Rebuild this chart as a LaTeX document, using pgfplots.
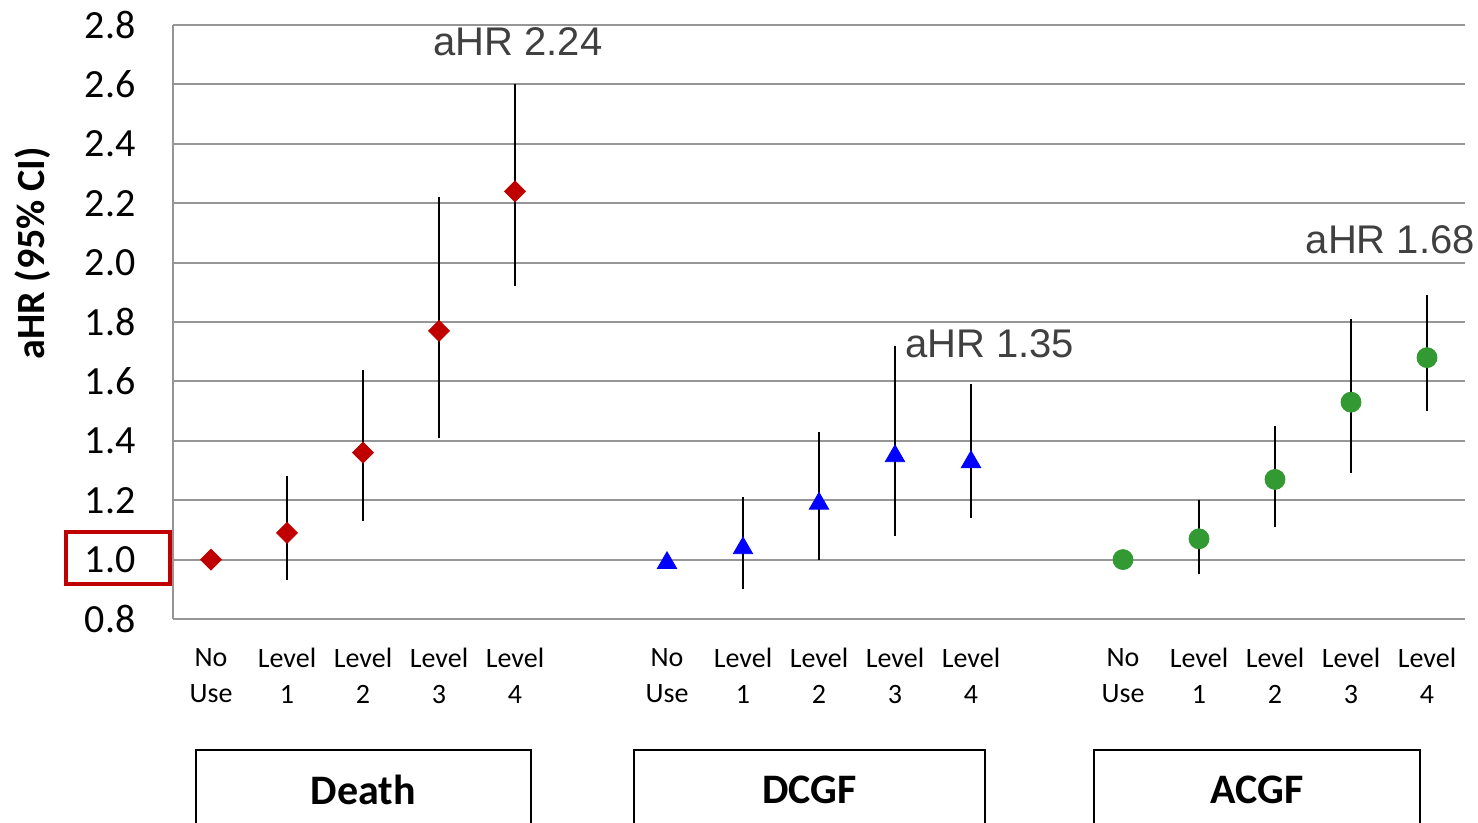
\documentclass[border=0pt]{standalone}
\usepackage{fontspec}
\setmainfont{Carlito}
\newfontfamily\arialfont{Liberation Sans}
\usepackage{pgfplots}
\pgfplotsset{compat=1.18}
\usepackage{pgfplotstable}

\definecolor{gridgrey}{RGB}{150,150,150}
\definecolor{dred}{RGB}{192,0,0}
\definecolor{dblue}{RGB}{0,0,255}
\definecolor{dgreen}{RGB}{51,153,51}
\definecolor{notegrey}{RGB}{64,64,64}

% x = category slot, y = aHR, lo/hi = 95% CI
\pgfplotstableread{
x y lo hi
0 1.00 1.00 1.00
1 1.09 0.93 1.28
2 1.36 1.13 1.64
3 1.77 1.41 2.22
4 2.24 1.92 2.60
}\death
\pgfplotstableread{
x y lo hi
6 1.00 1.00 1.00
7 1.05 0.90 1.21
8 1.20 1.00 1.43
9 1.36 1.08 1.72
10 1.34 1.14 1.59
}\dcgf
\pgfplotstableread{
x y lo hi
12 1.00 1.00 1.00
13 1.07 0.95 1.20
14 1.27 1.11 1.45
15 1.53 1.29 1.81
16 1.68 1.50 1.89
}\acgf

\begin{document}
\begin{tikzpicture}
\useasboundingbox (0,0) rectangle (739pt,411.5pt);
\begin{axis}[
  at={(86.5pt,102pt)}, anchor=south west,
  scale only axis, width=646pt, height=297pt,
  xmin=-0.5, xmax=16.5, ymin=0.8, ymax=2.8,
  clip=false,
  axis x line*=bottom, axis y line*=left,
  axis line style={draw=gridgrey, line width=1pt, -},
  major tick length=0pt,
  ymajorgrids, grid style={gridgrey, line width=1pt},
  ytick={0.8,1.0,1.2,1.4,1.6,1.8,2.0,2.2,2.4,2.6,2.8},
  yticklabel style={/pgf/number format/.cd, fixed, fixed zerofill, precision=1,
    assume math mode=true, /tikz/.cd,
    font=\fontsize{20}{24}\selectfont, anchor=east, inner sep=0pt, xshift=-18.5pt},
  xtick={0,1,2,3,4,6,7,8,9,10,12,13,14,15,16},
  xticklabels={{No\\Use},{Level\\1},{Level\\2},{Level\\3},{Level\\4},
               {No\\Use},{Level\\1},{Level\\2},{Level\\3},{Level\\4},
               {No\\Use},{Level\\1},{Level\\2},{Level\\3},{Level\\4}},
  xticklabel style={align=center, font=\fontsize{14}{18}\selectfont,
    anchor=north, inner sep=0pt, yshift=-14.5pt},
  error bars/error bar style={black, line width=1.2pt},
]
\addplot[only marks, mark=square*, mark size=3.7pt, mark options={rotate=45}, dred,
  error bars/.cd, y dir=both, y explicit, error mark=none]
  table[x=x, y=y, y error plus expr=\thisrow{hi}-\thisrow{y},
        y error minus expr=\thisrow{y}-\thisrow{lo}] {\death};
\addplot[only marks, mark=triangle*, mark size=5.6pt, mark options={yshift=-1.7pt}, dblue,
  error bars/.cd, y dir=both, y explicit, error mark=none]
  table[x=x, y=y, y error plus expr=\thisrow{hi}-\thisrow{y},
        y error minus expr=\thisrow{y}-\thisrow{lo}] {\dcgf};
\addplot[only marks, mark=*, mark size=5pt, dgreen,
  error bars/.cd, y dir=both, y explicit, error mark=none]
  table[x=x, y=y, y error plus expr=\thisrow{hi}-\thisrow{y},
        y error minus expr=\thisrow{y}-\thisrow{lo}] {\acgf};

% annotations
\node[anchor=west, inner sep=0pt, text=notegrey, font=\arialfont\fontsize{20}{24}\selectfont]
  at (axis cs:2.92,2.743) {aHR 2.24};
\node[anchor=west, inner sep=0pt, text=notegrey, font=\arialfont\fontsize{20}{24}\selectfont]
  at (axis cs:9.13,1.728) {aHR 1.35};
\node[anchor=west, inner sep=0pt, text=notegrey, font=\arialfont\fontsize{20}{24}\selectfont]
  at (axis cs:14.40,2.076) {aHR 1.68};
\end{axis}

% ylabel
\node[rotate=90, font=\bfseries\fontsize{20}{24}\selectfont] at (16.5pt,285pt) {aHR (95\% CI)};
% red highlight round 1.0
\draw[dred, line width=2pt] (33pt,119.5pt) rectangle (85pt,145.5pt);
% group boxes
\draw[black, line width=1pt] (98pt,-5pt) -- (98pt,36.5pt) -- (265.5pt,36.5pt) -- (265.5pt,-5pt);
\draw[black, line width=1pt] (317pt,-5pt) -- (317pt,36.5pt) -- (492.5pt,36.5pt) -- (492.5pt,-5pt);
\draw[black, line width=1pt] (547pt,-5pt) -- (547pt,36.5pt) -- (710pt,36.5pt) -- (710pt,-5pt);
\node[font=\bfseries\fontsize{21}{24}\selectfont] at (181.75pt,16.5pt) {Death};
\node[font=\bfseries\fontsize{21}{24}\selectfont] at (404.75pt,16.5pt) {DCGF};
\node[font=\bfseries\fontsize{21}{24}\selectfont] at (628.5pt,16.5pt) {ACGF};
\end{tikzpicture}
\end{document}
